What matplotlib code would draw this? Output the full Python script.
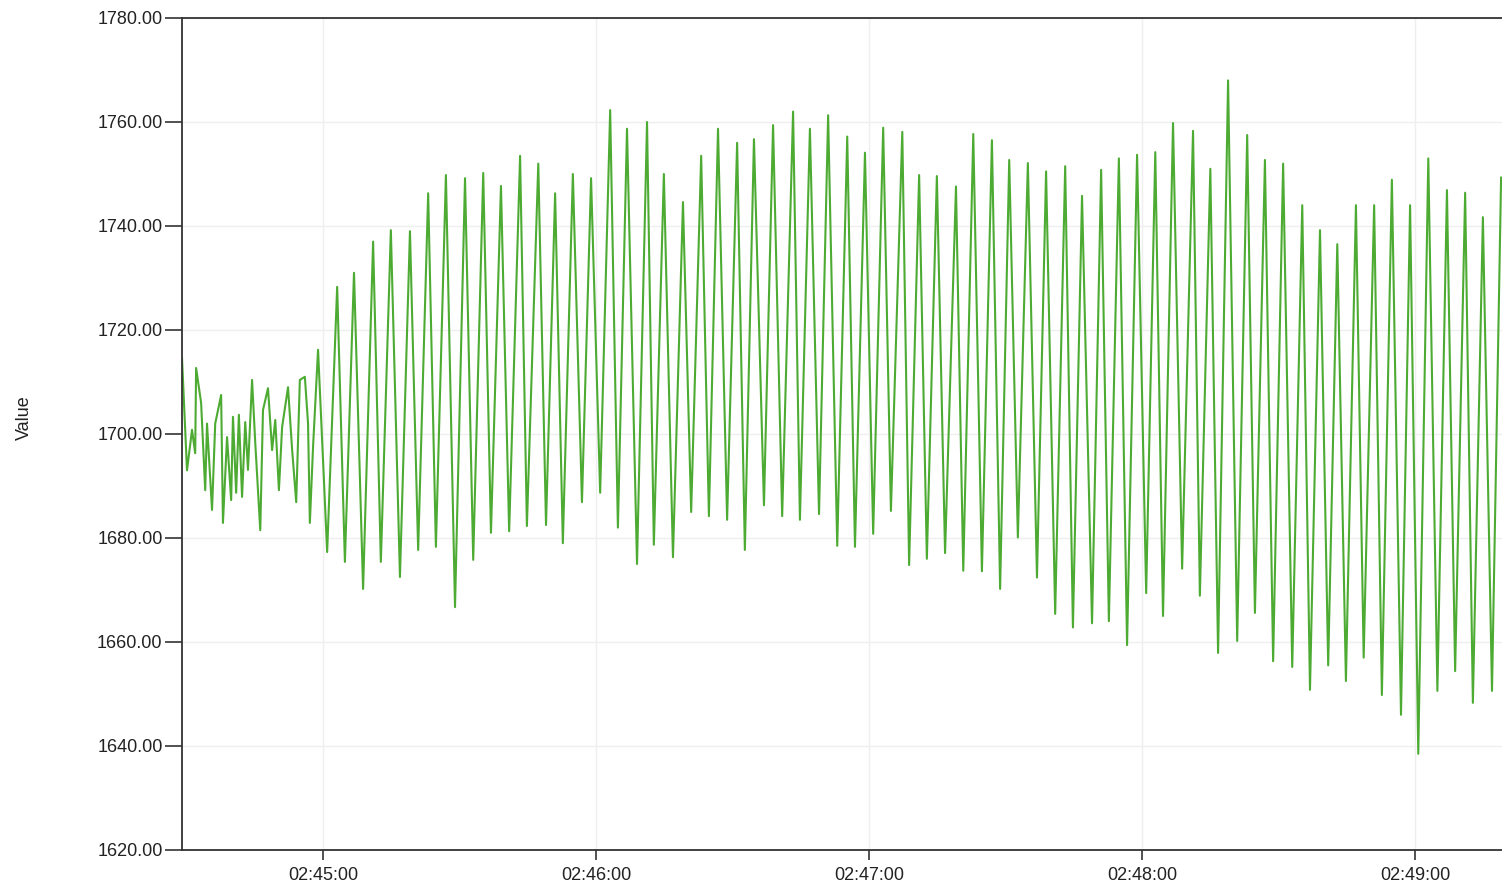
import datetime
import matplotlib
matplotlib.use("Agg")
import matplotlib.pyplot as plt
import matplotlib.dates as mdates
from matplotlib.ticker import FormatStrFormatter

# seconds after 02:44:00 and readings for the noisy start of the trace
noise_seconds = [29.0, 30.1, 31.2, 31.9, 32.1, 33.2, 34.1, 34.5, 35.6, 36.3,
                 37.6, 38.0, 38.9, 39.8, 40.2, 40.9, 41.5, 42.2, 42.9, 43.5,
                 44.4, 45.1, 46.2, 46.8, 47.9, 48.8, 49.5, 50.3, 51.0, 52.3,
                 53.2, 54.1, 54.9, 56.0, 56.7, 57.1, 57.8, 58.9]
noise_values = [1714.6, 1693.0, 1700.8, 1696.3, 1712.7, 1706.0, 1689.2, 1702.0,
                1685.4, 1702.0, 1707.5, 1682.9, 1699.4, 1687.3, 1703.3, 1688.7,
                1703.7, 1687.9, 1702.3, 1693.1, 1710.4, 1698.3, 1681.5, 1704.6,
                1708.8, 1696.9, 1702.7, 1689.2, 1701.3, 1709.0, 1697.0, 1686.9,
                1710.4, 1711.0, 1702.0, 1682.9, 1697.5, 1716.2]

# cycle tops
peak_seconds = [63.1, 66.8, 71.0, 74.9, 79.1, 83.1, 87.0, 91.2, 95.2, 99.1,
                103.3, 107.3, 111.0, 114.9, 118.9, 123.1, 126.8, 131.2, 134.9,
                139.1, 143.1, 146.8, 151.0, 154.7, 158.9, 163.3, 167.0, 171.0,
                175.2, 179.1, 183.1, 187.3, 191.0, 194.9, 199.1, 202.9, 207.0,
                210.8, 214.9, 218.9, 223.1, 226.8, 231.0, 234.9, 238.9, 242.9,
                246.8, 251.2, 255.0, 258.9, 263.1, 267.0, 271.0, 275.2, 279.1,
                282.9, 287.0, 291.0, 294.9, 298.9, 302.9, 307.0, 311.0, 314.9,
                318.9]
peak_values = [1728.3, 1731.0, 1737.0, 1739.2, 1739.0, 1746.3, 1749.8, 1749.2,
               1750.2, 1747.7, 1753.5, 1752.0, 1746.3, 1750.0, 1749.2, 1762.3,
               1758.7, 1760.0, 1750.0, 1744.6, 1753.5, 1758.7, 1756.0, 1756.7,
               1759.4, 1762.0, 1758.7, 1761.3, 1757.2, 1754.1, 1758.9, 1758.1,
               1749.8, 1749.6, 1747.6, 1757.7, 1756.5, 1752.7, 1752.1, 1750.5,
               1751.5, 1745.8, 1750.8, 1753.0, 1753.7, 1754.2, 1759.8, 1758.3,
               1751.0, 1768.0, 1757.5, 1752.7, 1752.0, 1744.0, 1739.2, 1736.5,
               1744.0, 1744.0, 1748.9, 1744.0, 1753.0, 1746.9, 1746.4, 1741.7,
               1749.3]

# cycle bottoms
trough_seconds = [60.9, 64.8, 68.8, 72.7, 76.9, 80.9, 84.8, 89.0, 93.0, 96.9,
                  100.9, 104.8, 109.0, 112.7, 116.9, 120.9, 124.8, 129.0, 132.7,
                  136.9, 140.9, 144.8, 148.8, 152.7, 156.9, 160.9, 164.8, 169.0,
                  173.0, 176.9, 180.9, 184.8, 188.8, 192.7, 196.7, 200.7, 204.8,
                  208.8, 212.7, 216.9, 220.9, 224.8, 229.0, 232.7, 236.7, 240.9,
                  244.6, 248.8, 252.7, 256.7, 260.9, 264.8, 268.8, 273.0, 276.9,
                  280.9, 284.8, 288.7, 292.7, 296.9, 300.7, 304.9, 308.8, 312.7,
                  316.9]
trough_values = [1677.3, 1675.4, 1670.2, 1675.4, 1672.5, 1677.7, 1678.3, 1666.7,
                 1675.8, 1681.0, 1681.3, 1682.3, 1682.5, 1679.0, 1686.9, 1688.7,
                 1682.0, 1675.0, 1678.7, 1676.3, 1685.0, 1684.2, 1683.5, 1677.7,
                 1686.3, 1684.2, 1683.5, 1684.6, 1678.5, 1678.3, 1680.8, 1685.2,
                 1674.8, 1676.0, 1677.1, 1673.7, 1673.6, 1670.2, 1680.1, 1672.4,
                 1665.4, 1662.8, 1663.6, 1664.0, 1659.4, 1669.4, 1665.0, 1674.1,
                 1668.9, 1657.9, 1660.2, 1665.6, 1656.3, 1655.2, 1650.8, 1655.5,
                 1652.5, 1657.0, 1649.8, 1646.0, 1638.5, 1650.6, 1654.4, 1648.3,
                 1650.6]

start = datetime.datetime(2000, 1, 1, 2, 44, 0)
x_min = start + datetime.timedelta(seconds=29.0)
x_max = start + datetime.timedelta(seconds=319.1)
y_ticks = [1620, 1640, 1660, 1680, 1700, 1720, 1740, 1760, 1780]


def build_series():
    """Merge the start noise, tops and bottoms into one time ordered trace."""
    pairs = list(zip(noise_seconds, noise_values))
    pairs += list(zip(peak_seconds, peak_values))
    pairs += list(zip(trough_seconds, trough_values))
    pairs.sort()
    times = [start + datetime.timedelta(seconds=s) for s, v in pairs]
    values = [v for s, v in pairs]
    return times, values


def graph_plot(times, values):
    plt.rcParams['font.family'] = ['Liberation Sans', 'DejaVu Sans']
    fig = plt.figure(figsize=(15.02, 8.85), dpi=100)
    ax = fig.add_axes([182 / 1502, 1 - 850 / 885, 1 - 182 / 1502, (850 - 18) / 885])

    ax.plot(times, values, color='#4dab33', linewidth=1.5)

    ax.set_xlim(x_min, x_max)
    ax.set_ylim(1620, 1780)
    ax.set_yticks(y_ticks)
    ax.yaxis.set_major_formatter(FormatStrFormatter('%.2f'))
    ax.xaxis.set_major_locator(mdates.MinuteLocator())
    ax.xaxis.set_major_formatter(mdates.DateFormatter('%H:%M:%S'))

    ax.grid(True, color='#efefef', linewidth=1.0)
    ax.set_axisbelow(True)
    for side in ['left', 'top', 'bottom']:
        ax.spines[side].set_color('#333333')
        ax.spines[side].set_linewidth(1.3)
    ax.spines['right'].set_visible(False)

    ax.tick_params(axis='y', length=12, width=1.2, color='#333333',
                   labelsize=13, labelcolor='#222222', pad=2)
    ax.tick_params(axis='x', length=7, width=1.2, color='#333333',
                   labelsize=13, labelcolor='#222222', pad=5)
    ax.set_ylabel('Value', fontsize=13, color='#222222')
    ax.yaxis.set_label_coords(-0.113, 0.52)

    fig.savefig('out.png', dpi=100)


def main():
    times, values = build_series()
    graph_plot(times, values)


if __name__ == "__main__":
    main()
